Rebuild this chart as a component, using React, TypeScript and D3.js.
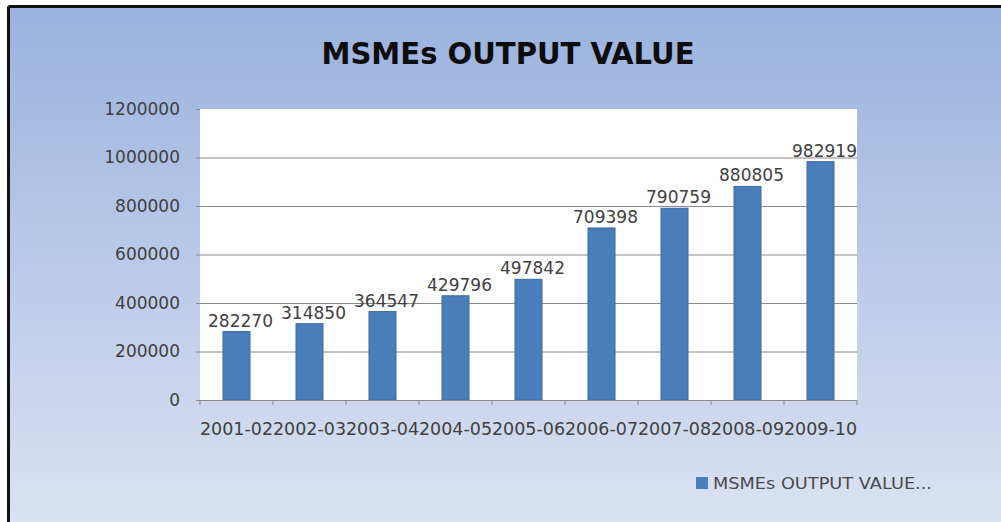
import { useEffect, useRef } from 'react';
import * as d3 from 'd3';

const years = ['2001-02', '2002-03', '2003-04', '2004-05', '2005-06', '2006-07', '2007-08', '2008-09', '2009-10'];
const outputValues = [282270, 314850, 364547, 429796, 497842, 709398, 790759, 880805, 982919];
const yTicks = [0, 200000, 400000, 600000, 800000, 1000000, 1200000];
const chartTitle = 'MSMEs OUTPUT VALUE';
const legendLabel = 'MSMEs OUTPUT VALUE...';

const W = 1001;
const H = 522;

export default function App() {
  const svgRef = useRef<SVGSVGElement>(null);

  useEffect(() => {
    if (!svgRef.current) return;
    const svg = d3.select(svgRef.current);
    svg.selectAll('*').remove();

    const font = '"DejaVu Sans", sans-serif';
    const textColor = '#404040';

    // Background gradient
    const defs = svg.append('defs');
    const grad = defs.append('linearGradient')
      .attr('id', 'bg').attr('x1', 0).attr('y1', 0).attr('x2', 0).attr('y2', 1);
    grad.append('stop').attr('offset', '0%').attr('stop-color', '#9ab2de');
    grad.append('stop').attr('offset', '100%').attr('stop-color', '#dbe2f2');

    svg.append('rect').attr('width', W).attr('height', H).attr('fill', 'white');
    svg.append('rect').attr('x', 8).attr('y', 6).attr('width', W).attr('height', H)
      .attr('fill', 'url(#bg)');
    // frame (top and left only visible)
    svg.append('line').attr('x1', 8.5).attr('x2', W).attr('y1', 6.5).attr('y2', 6.5)
      .attr('stroke', '#111').attr('stroke-width', 3);
    svg.append('line').attr('x1', 8.5).attr('x2', 8.5).attr('y1', 6.5).attr('y2', H)
      .attr('stroke', '#111').attr('stroke-width', 3);

    const plot = { left: 200, right: 857, top: 109, bottom: 400 };

    const x = d3.scaleBand<string>()
      .domain(years)
      .range([plot.left, plot.right])
      .paddingInner(0.63)
      .paddingOuter(0.315);

    const y = d3.scaleLinear()
      .domain([0, 1200000])
      .range([plot.bottom, plot.top]);

    // Plot area
    svg.append('rect')
      .attr('x', plot.left).attr('y', plot.top)
      .attr('width', plot.right - plot.left).attr('height', plot.bottom - plot.top)
      .attr('fill', 'white');

    // Grid lines + y axis
    const yAxis = svg.append('g')
      .attr('transform', `translate(${plot.left},0)`)
      .call(d3.axisLeft(y).tickValues(yTicks).tickSize(4).tickPadding(16).tickFormat(d => String(d)))
      .call(g => g.select('.domain').remove())
      .call(g => g.selectAll('.tick line').attr('stroke', '#8a8a8a'))
      .call(g => g.selectAll('.tick text')
        .attr('fill', textColor).style('font-size', '17px').style('font-family', font));
    yAxis.selectAll('.tick').filter(d => (d as number) > 0 && (d as number) < 1200000)
      .append('line')
      .attr('x1', 0).attr('x2', plot.right - plot.left)
      .attr('stroke', '#8a8a8a').attr('stroke-width', 1);

    // Bars
    svg.append('g')
      .selectAll('rect')
      .data(outputValues)
      .join('rect')
      .attr('x', (_d, i) => x(years[i])!)
      .attr('y', d => y(d))
      .attr('width', x.bandwidth())
      .attr('height', d => plot.bottom - y(d))
      .attr('fill', '#4a7ebb')
      .attr('stroke', '#3d6aa2')
      .attr('stroke-width', 1);

    // X axis
    const band = (plot.right - plot.left) / years.length;
    svg.append('g')
      .attr('transform', `translate(0,${plot.bottom})`)
      .call(d3.axisBottom(x).tickSize(0).tickPadding(23))
      .call(g => g.select('.domain').attr('stroke', '#8a8a8a').attr('d', `M${plot.left},0.5H${plot.right}`))
      .call(g => g.selectAll('.tick text')
        .attr('fill', textColor)
        .attr('textLength', band)
        .attr('lengthAdjust', 'spacingAndGlyphs')
        .style('font-size', '17px').style('font-family', font));
    svg.append('g')
      .selectAll('line')
      .data(d3.range(years.length + 1))
      .join('line')
      .attr('x1', i => plot.left + i * band)
      .attr('x2', i => plot.left + i * band)
      .attr('y1', plot.bottom)
      .attr('y2', plot.bottom + 5)
      .attr('stroke', '#8a8a8a');

    // Data labels
    svg.append('g')
      .selectAll('text')
      .data(outputValues)
      .join('text')
      .attr('x', (_d, i) => x(years[i])! + x.bandwidth() / 2 + 4)
      .attr('y', d => y(d) - 5)
      .attr('text-anchor', 'middle')
      .attr('fill', textColor)
      .style('font-size', '17px')
      .style('font-family', font)
      .text(d => String(d));

    // Title
    svg.append('text')
      .attr('x', 508).attr('y', 64)
      .attr('text-anchor', 'middle')
      .attr('fill', '#0d0d0d')
      .attr('font-weight', 'bold')
      .attr('textLength', 373)
      .attr('lengthAdjust', 'spacingAndGlyphs')
      .style('font-size', '31px')
      .style('font-family', font)
      .text(chartTitle);

    // Legend
    svg.append('rect')
      .attr('x', 696).attr('y', 477).attr('width', 12).attr('height', 12)
      .attr('fill', '#4a7ebb');
    svg.append('text')
      .attr('x', 713).attr('y', 489)
      .attr('fill', '#4a4a4a')
      .attr('textLength', 219)
      .attr('lengthAdjust', 'spacingAndGlyphs')
      .style('font-size', '16px')
      .style('font-family', font)
      .text(legendLabel);
  }, []);

  return (
    <svg
      ref={svgRef}
      width={W}
      height={H}
      style={{ position: 'absolute', left: 0, top: 0, display: 'block' }}
    />
  );
}
